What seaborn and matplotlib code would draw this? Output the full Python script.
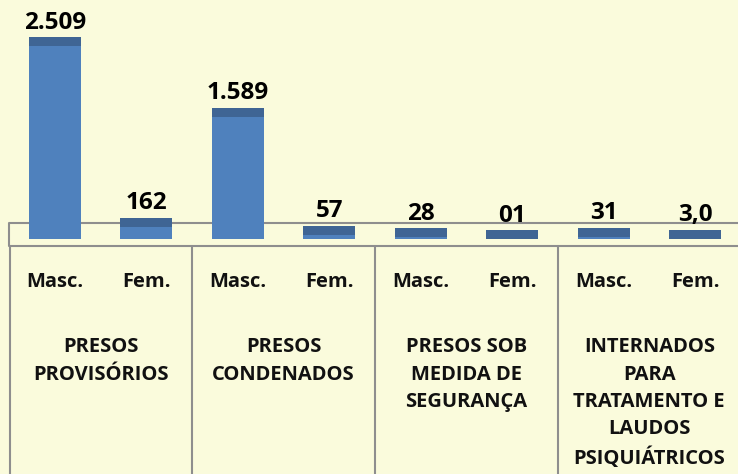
import numpy as np
import pandas as pd
import seaborn as sns
from matplotlib import pyplot as plt

# data
grupos = ["PRESOS\nPROVISÓRIOS", "PRESOS\nCONDENADOS",
          "PRESOS SOB\nMEDIDA DE\nSEGURANÇA",
          "INTERNADOS\nPARA\nTRATAMENTO E\nLAUDOS\nPSIQUIÁTRICOS"]
sexo = ["Masc.", "Fem."]
valores = [2509, 162, 1589, 57, 28, 1, 31, 3.0]
rotulos = ["2.509", "162", "1.589", "57", "28", "01", "31", "3,0"]

sns.set_theme(style="white")
plt.rcParams['font.family'] = ['Open Sans', 'DejaVu Sans']

fundo = '#FAFBDC'
azul = '#4F81BD'
escuro = '#3F6594'
cinza = '#8E8E8E'

df = pd.DataFrame({
    'cat': [f"{g}|{s}" for g in grupos for s in sexo],
    'sexo': [s for g in grupos for s in sexo],
    'valor': valores,
    'rotulo': rotulos,
})
faixa = 117  # top face of the 3d column (~9 px)
df['topo'] = df['valor'] + faixa

W, H = 738, 474
fig = plt.figure(figsize=(W / 100, H / 100), dpi=100, facecolor=fundo)

xlim = (-0.6016, 7.47)

# overlay in category x / pixel y for the floor and the table
ov = fig.add_axes([0, 0, 1, 1])
ov.set_xlim(*xlim)
ov.set_ylim(H, 0)
ov.axis('off')
ov.set_facecolor(fundo)

base = 239
ax = fig.add_axes([0, (H - base) / H, 1, base / H])
ax.patch.set_alpha(0)

sns.barplot(data=df, x='cat', y='topo', color=escuro, width=0.569,
            saturation=1, linewidth=0, ax=ax)
sns.barplot(data=df, x='cat', y='valor', color=azul, width=0.569,
            saturation=1, linewidth=0, ax=ax)
ax.set_xlim(*xlim)
ax.set_ylim(0, base * 13)
ax.axis('off')

for i, r in df.iterrows():
    ax.annotate(r['rotulo'], (i, r['topo']), xytext=(0, 6),
                textcoords='offset points', ha='center', va='baseline',
                fontsize=17.5, fontweight='bold', color='black')

# floor of the 3d chart
esq = -0.505
ov.plot([esq, xlim[1]], [223, 223], color=cinza, lw=1.5, solid_capstyle='butt')
ov.plot([esq, xlim[1]], [246, 246], color=cinza, lw=1.5, solid_capstyle='butt')
ov.plot([esq, esq], [223, 246], color=cinza, lw=1.5)

# table below
for xb in [-0.49, 1.5, 3.5, 5.5]:
    ov.plot([xb, xb], [246, H + 2], color=cinza, lw=1.5)

for i, s in enumerate(df['sexo']):
    ov.text(i, 282, s, ha='center', va='center', fontsize=14.5,
            fontweight='bold', color='#111111')

for g, nome in enumerate(grupos):
    ov.text(2 * g + 0.5, 337, nome, ha='center', va='top', fontsize=14.5,
            fontweight='bold', color='#111111', linespacing=1.5)

plt.savefig('out.png', dpi=100, facecolor=fundo)
